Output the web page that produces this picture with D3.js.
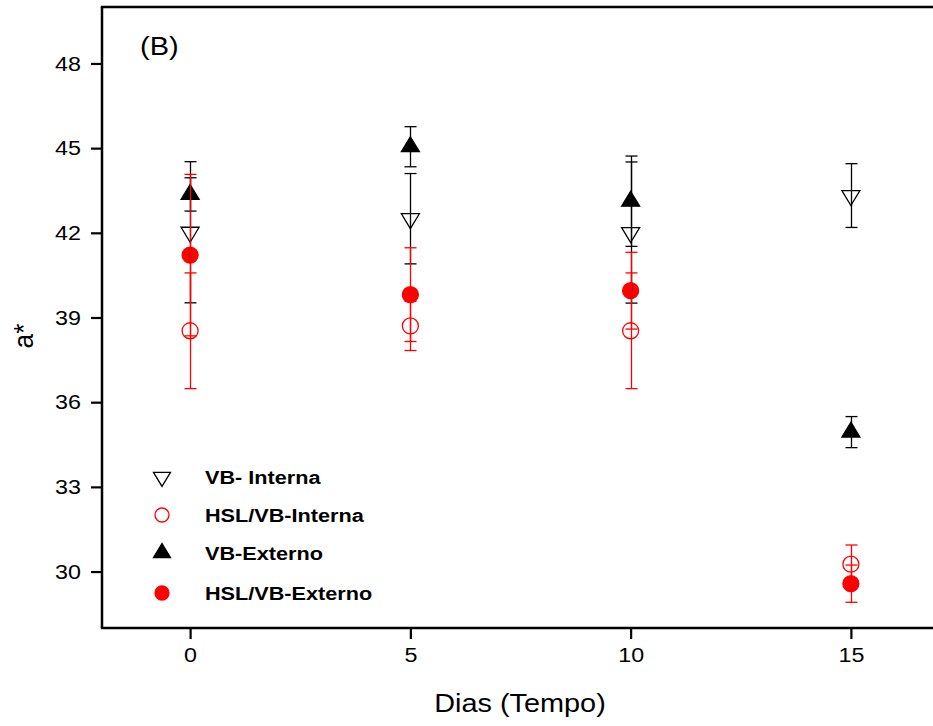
<!DOCTYPE html>
<html><head><meta charset="utf-8">
<script src="https://cdn.jsdelivr.net/npm/d3@7"></script>
<style>body{margin:0;background:#fff}svg{display:block}text{font-family:Arial,"Liberation Sans",sans-serif}</style>
</head><body><svg id="c" width="933" height="726"></svg>
<script>
const days = [0, 5, 10, 15];
const vbInterna = [42.02, 42.50, 42.01, 43.32];
const vbInternaErr = [2.50, 1.60, 2.50, 1.13];
const hslInterna = [38.53, 38.70, 38.53, 30.26];
const hslInternaErr = [2.05, 0.87, 2.05, 0.68];
const vbExterno = [43.36, 45.05, 43.12, 34.94];
const vbExternoErr = [0.59, 0.71, 1.60, 0.55];
const hslExterno = [41.21, 39.81, 39.95, 29.57];
const hslExternoErr = [2.86, 1.66, 1.36, 0.66];
const yTicks = [30, 33, 36, 39, 42, 45, 48];
const xTicks = [0, 5, 10, 15];

const series = [
  {name: "VB- Interna", vals: vbInterna, err: vbInternaErr, shape: "down", fill: "none", color: "#000"},
  {name: "HSL/VB-Interna", vals: hslInterna, err: hslInternaErr, shape: "circle", fill: "none", color: "#ff0000"},
  {name: "VB-Externo", vals: vbExterno, err: vbExternoErr, shape: "up", fill: "#000", color: "#000"},
  {name: "HSL/VB-Externo", vals: hslExterno, err: hslExternoErr, shape: "circle", fill: "#ff0000", color: "#ff0000"}
];

const svg = d3.select("#c");
const x = d3.scaleLinear().domain([-2, 17]).range([102, 939]);
const y = d3.scaleLinear().domain([28, 50]).range([628, 7]);
const SX = 1.11; // horizontal stretch of the reference lettering

function shapePath(shape, w) {
  if (shape === "circle") { const r = w/2; return `M${-r},0A${r},${r} 0 1,0 ${r},0A${r},${r} 0 1,0 ${-r},0Z`; }
  const h = w * 0.83;
  if (shape === "up") return `M0,${-2*h/3}L${w/2},${h/3}L${-w/2},${h/3}Z`;
  return `M0,${2*h/3}L${w/2},${-h/3}L${-w/2},${-h/3}Z`;
}
function markerSize(s){ return s.shape === "circle" ? 16 : 18; }
function stretchText(sel, ax, ay, sx) {
  sel.attr("transform", `translate(${ax},${ay}) scale(${sx},1) translate(${-ax},${-ay})`);
}

// markers
const mk = svg.append("g");
series.forEach(s => {
  mk.selectAll(null).data(days.map((d,i)=>({d, v:s.vals[i]}))).join("path")
    .attr("transform", p => `translate(${x(p.d)},${y(p.v)})`)
    .attr("d", shapePath(s.shape, markerSize(s)))
    .attr("fill", s.fill).attr("stroke", s.color).attr("stroke-width", 1.3);
});

// error bars (black first, red on top)
const eb = svg.append("g");
[series[0], series[2], series[1], series[3]].forEach(s => {
  days.forEach((d,i) => {
    const cx = Math.round(x(d)) + 0.5, hi = y(s.vals[i] + s.err[i]), lo = y(s.vals[i] - s.err[i]);
    eb.append("line").attr("x1",cx).attr("x2",cx).attr("y1",hi).attr("y2",lo).attr("stroke",s.color).attr("stroke-width",1.3);
    [hi, lo].forEach(yy => eb.append("line").attr("x1",cx-6).attr("x2",cx+6).attr("y1",yy).attr("y2",yy).attr("stroke",s.color).attr("stroke-width",1.3));
  });
});

// axes
const yAxis = svg.append("g").attr("transform","translate(102,0)")
  .call(d3.axisLeft(y).tickValues(yTicks).tickSize(11).tickPadding(10).tickFormat(d3.format("d")));
const xAxis = svg.append("g").attr("transform","translate(0,628)")
  .call(d3.axisBottom(x).tickValues(xTicks).tickSize(11).tickPadding(8).tickFormat(d3.format("d")));
[yAxis, xAxis].forEach(a => {
  a.select(".domain").remove();
  a.selectAll(".tick line").attr("stroke","#000").attr("stroke-width",2.2);
  a.selectAll(".tick text").attr("font-size",21).attr("fill","#000").style("font-family","Arial, 'Liberation Sans', sans-serif");
});
yAxis.selectAll(".tick text").each(function(){ stretchText(d3.select(this), -21, 0, SX); });
xAxis.selectAll(".tick text").each(function(){ stretchText(d3.select(this), 0, 0, SX); });

// frame lines
svg.append("line").attr("x1",102).attr("x2",102).attr("y1",7).attr("y2",628).attr("stroke","#000").attr("stroke-width",2.5);
svg.append("line").attr("x1",100.8).attr("x2",933).attr("y1",628).attr("y2",628).attr("stroke","#000").attr("stroke-width",2.5);
svg.append("line").attr("x1",100.8).attr("x2",933).attr("y1",7).attr("y2",7).attr("stroke","#000").attr("stroke-width",2.5);

// titles
const tB = svg.append("text").attr("x",140).attr("y",55).attr("font-size",25).text("(B)");
stretchText(tB, 140, 55, 1.16);
svg.append("text").attr("transform","translate(33,336) rotate(-90) scale(1.05,1.1)").attr("text-anchor","middle").attr("font-size",25).text("a*");
const tX = svg.append("text").attr("x",520).attr("y",712).attr("text-anchor","middle").attr("font-size",26).text("Dias (Tempo)");
stretchText(tX, 520, 712, SX);

// legend
const legY = [477, 515, 553, 593];
series.forEach((s,i) => {
  const g = svg.append("g").attr("transform",`translate(162,${legY[i]})`);
  const w = s.shape === "circle" ? 14 : 17;
  g.append("path").attr("d", shapePath(s.shape, w)).attr("fill", s.fill).attr("stroke", s.color).attr("stroke-width",1.3);
  const t = g.append("text").attr("x",43).attr("y",7).attr("font-size",19).attr("font-weight","bold").text(s.name);
  stretchText(t, 43, 7, 1.14);
});
</script></body></html>
